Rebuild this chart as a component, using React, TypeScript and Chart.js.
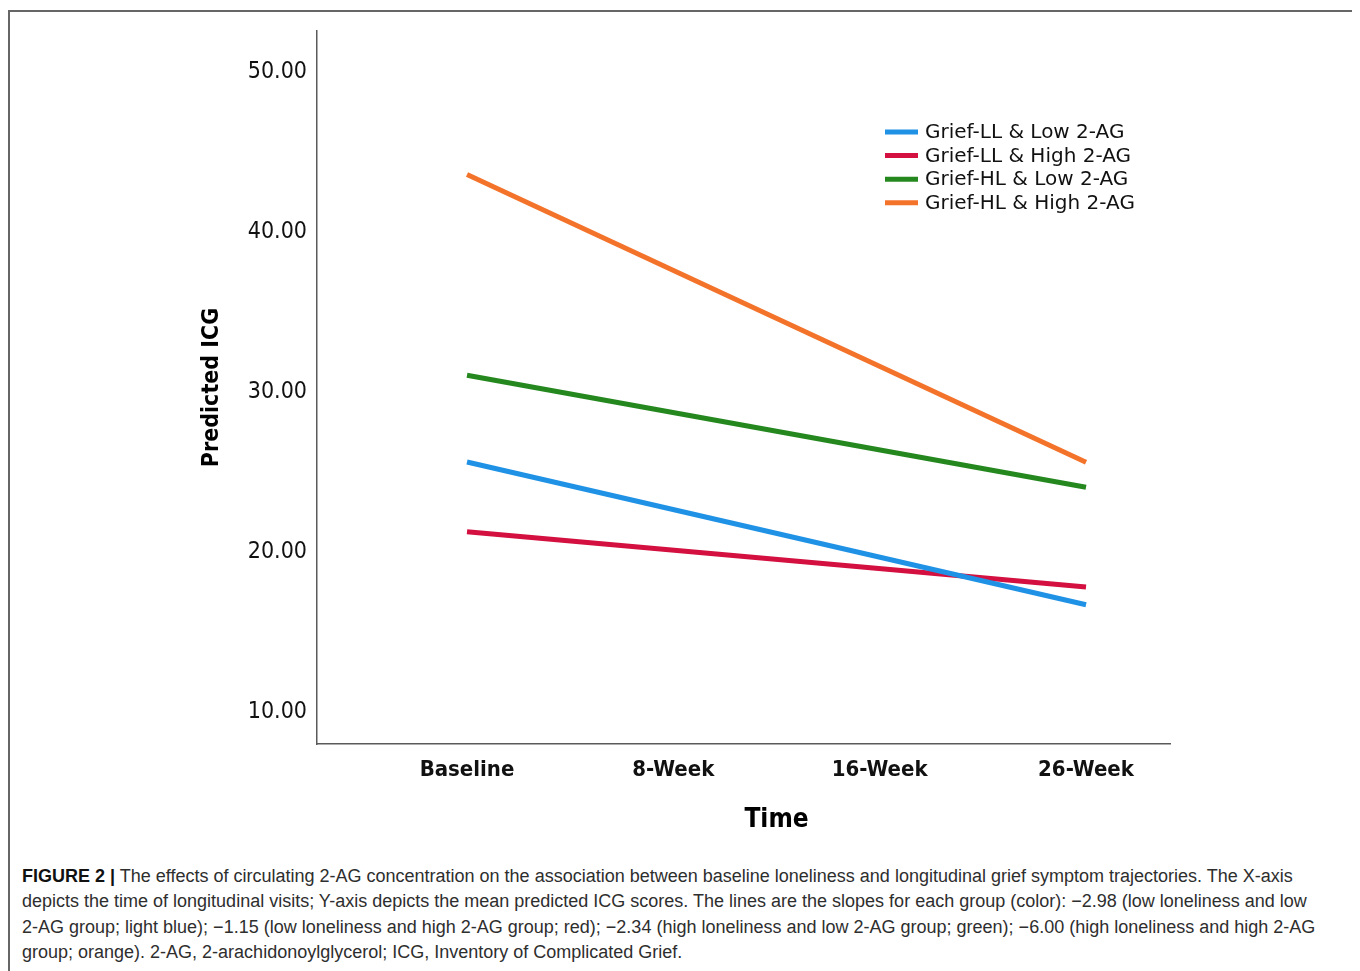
import React, { useEffect, useRef } from "react";
import { Chart, registerables } from "chart.js";

Chart.register(...registerables);

const timeLabels = ["Baseline", "8-Week", "16-Week", "26-Week"];
const seriesNames = [
  "Grief-LL & Low 2-AG",
  "Grief-LL & High 2-AG",
  "Grief-HL & Low 2-AG",
  "Grief-HL & High 2-AG",
];
const seriesColors = ["#1f92e6", "#d3103f", "#24881f", "#f4732b"];
const visitIndex = [0, 3];
const lowLowValues = [25.53, 16.62];
const lowHighValues = [21.17, 17.72];
const highLowValues = [30.95, 23.96];
const highHighValues = [43.49, 25.52];
const yTickValues = [10, 20, 30, 40, 50];
const xTitle = "Time";
const yTitle = "Predicted ICG";

const allSeries = [lowLowValues, lowHighValues, highLowValues, highHighValues];

const CANVAS_W = 1343;
const CANVAS_H = 840;
const AREA_LEFT = 307;
const AREA_RIGHT = 1160;
const AREA_TOP = 19;
const AREA_BOTTOM = 732;

const COND = '"DejaVu Sans Condensed", "DejaVu Sans", sans-serif';

const overlayPlugin = {
  id: "overlay",
  afterDatasetsDraw(chart: any) {
    const { ctx, chartArea } = chart;
    const x0 = chartArea.left + 568;
    const y0 = chartArea.top + 101;
    const step = 23.6;
    chart.data.datasets.forEach((ds: any, i: number) => {
      const y = y0 + i * step;
      ctx.save();
      ctx.strokeStyle = ds.borderColor;
      ctx.lineWidth = 5;
      ctx.lineCap = "butt";
      ctx.beginPath();
      ctx.moveTo(x0, y);
      ctx.lineTo(x0 + 33, y);
      ctx.stroke();
      ctx.fillStyle = "#111";
      ctx.font = '20px "DejaVu Sans", sans-serif';
      ctx.textBaseline = "middle";
      ctx.textAlign = "left";
      ctx.fillText(ds.label, x0 + 40, y + 1);
      ctx.restore();
    });
    const xs = chart.scales.x;
    const cx = (xs.getPixelForValue(0) + xs.getPixelForValue(timeLabels.length - 1)) / 2;
    ctx.save();
    ctx.fillStyle = "#000";
    ctx.font = `bold 26px ${COND}`;
    ctx.textAlign = "center";
    ctx.textBaseline = "middle";
    ctx.fillText(xTitle, cx, chartArea.bottom + 76);
    ctx.restore();
  },
};

function LineChart() {
  const ref = useRef<HTMLCanvasElement | null>(null);
  useEffect(() => {
    if (!ref.current) return;
    const chart = new Chart(ref.current, {
      type: "line",
      data: {
        datasets: allSeries.map((vals, i) => ({
          label: seriesNames[i],
          data: vals.map((v, j) => ({ x: visitIndex[j], y: v })),
          borderColor: seriesColors[i],
          backgroundColor: seriesColors[i],
          borderWidth: 5,
          pointRadius: 0,
          tension: 0,
          fill: false,
        })),
      },
      options: {
        animation: false,
        responsive: false,
        maintainAspectRatio: false,
        layout: {
          padding: {
            left: 0,
            top: AREA_TOP,
            right: CANVAS_W - AREA_RIGHT,
            bottom: 0,
          },
        },
        plugins: {
          legend: { display: false },
          tooltip: { enabled: false },
        },
        scales: {
          x: {
            type: "linear",
            min: -0.727,
            max: 3.407,
            afterBuildTicks: (s: any) => {
              s.ticks = timeLabels.map((_, i) => ({ value: i }));
            },
            afterFit: (s: any) => {
              s.height = CANVAS_H - AREA_BOTTOM;
            },
            ticks: {
              callback: (v: any) => timeLabels[v] ?? "",
              font: { family: COND, weight: "bold", size: 22 },
              color: "#111",
              padding: 13,
              autoSkip: false,
              maxRotation: 0,
            },
            grid: { display: false, drawTicks: false },
            border: { display: true, color: "#5a5a5a", width: 1.5 },
            title: { display: false },
          },
          y: {
            type: "linear",
            min: 7.92,
            max: 52.45,
            afterBuildTicks: (s: any) => {
              s.ticks = yTickValues.map((v) => ({ value: v }));
            },
            afterFit: (s: any) => {
              s.width = AREA_LEFT;
            },
            ticks: {
              callback: (v: any) => Number(v).toFixed(2),
              font: { family: COND, size: 23 },
              color: "#111",
              padding: 0,
              labelOffset: 1.5,
            },
            grid: { display: false, drawTicks: true, tickLength: 10 },
            border: { display: true, color: "#5a5a5a", width: 1.5 },
            title: {
              display: true,
              text: yTitle,
              font: { family: COND, weight: "bold", size: 23 },
              color: "#000",
              padding: { top: 188, bottom: 0 },
            },
          },
        },
      },
      plugins: [overlayPlugin],
    });
    return () => chart.destroy();
  }, []);
  return (
    <canvas
      ref={ref}
      width={CANVAS_W}
      height={CANVAS_H}
      style={{ display: "block", width: CANVAS_W, height: CANVAS_H }}
    />
  );
}

export default function App() {
  useEffect(() => {
    document.documentElement.style.overflow = "hidden";
    document.body.style.overflow = "hidden";
    document.body.style.marginBottom = "0px";
  }, []);
  const minus = "\u2212";
  return (
    <div style={{ paddingTop: 2 }}>
      <div
        style={{
          width: CANVAS_W,
          height: 959,
          borderTop: "2px solid #666",
          borderLeft: "2px solid #666",
          borderRight: "2px solid #666",
          boxSizing: "content-box",
          background: "#fff",
        }}
      >
        <LineChart />
        <div
          style={{
            marginTop: 12,
            paddingLeft: 12,
            fontFamily: '"Liberation Sans", Arial, sans-serif',
            fontSize: 18,
            lineHeight: "25.3px",
            color: "#2e2e2e",
            whiteSpace: "nowrap",
          }}
        >
          <b style={{ color: "#111" }}>FIGURE 2 |</b> The effects of circulating 2-AG concentration on the association between baseline loneliness and longitudinal grief symptom trajectories. The X-axis
          <br />
          depicts the time of longitudinal visits; Y-axis depicts the mean predicted ICG scores. The lines are the slopes for each group (color): {minus}2.98 (low loneliness and low
          <br />
          2-AG group; light blue); {minus}1.15 (low loneliness and high 2-AG group; red); {minus}2.34 (high loneliness and low 2-AG group; green); {minus}6.00 (high loneliness and high 2-AG
          <br />
          group; orange). 2-AG, 2-arachidonoylglycerol; ICG, Inventory of Complicated Grief.
        </div>
      </div>
    </div>
  );
}
